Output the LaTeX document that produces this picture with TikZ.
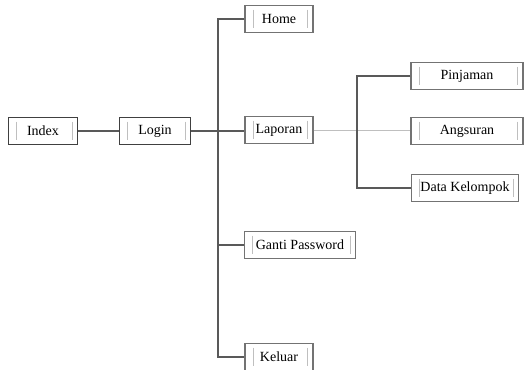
\documentclass[tikz,border=0pt]{standalone}
\usepackage{fontspec}
\setmainfont{Liberation Serif}

\tikzset{every picture/.style={line width=0.75pt}}
\tikzset{
  menubox/.style={draw=black!55, line width=1pt, fill=white, minimum height=20pt,
    inner sep=1pt, font=\fontsize{10.5}{12}\selectfont, text=black,
    path picture={
      \draw[black!25, line width=0.5pt] ([xshift=6pt,yshift=-3pt]path picture bounding box.north west) -- ([xshift=6pt,yshift=3pt]path picture bounding box.south west);
      \draw[black!25, line width=0.5pt] ([xshift=-4pt,yshift=-3pt]path picture bounding box.north east) -- ([xshift=-4pt,yshift=3pt]path picture bounding box.south east);
    }},
  mainbox/.style={menubox, draw=black!75, line width=1.2pt},
  link/.style={draw=black!65, line width=1pt},
  thinlink/.style={draw=black!25, line width=0.75pt}
}

\begin{document}
\begin{tikzpicture}[x=0.75pt,y=0.75pt,yscale=-1,xscale=1]
\useasboundingbox (0,0) rectangle (525,370);

% Text Node
\node[mainbox, minimum width=52pt] (index) at (43,131) {Index};
% Text Node
\node[mainbox, minimum width=53pt] (login) at (155,131) {Login};
% Text Node
\node[menubox, minimum width=51pt] (home) at (279,19) {Home};
% Text Node
\node[menubox, minimum width=51pt] (laporan) at (279,130) {Laporan};
% Text Node
\node[menubox, minimum width=83pt] (gantipw) at (300,245) {Ganti Password};
% Text Node
\node[menubox, minimum width=51pt] (keluar) at (279,357) {Keluar};
% Text Node
\node[menubox, minimum width=84pt] (pinjaman) at (467,76) {Pinjaman};
% Text Node
\node[menubox, minimum width=84pt] (angsuran) at (467,131) {Angsuran};
% Text Node
\node[menubox, minimum width=80pt] (datakel) at (465,188) {Data Kelompok};

%Straight Lines
\coordinate (sp1) at (218,131);
\coordinate (sp2) at (357,131);
\draw[link] (index) -- (login);
\draw[link] (login) -- (sp1);
\draw[link] (home.west) -| (sp1) |- (keluar.west);
\draw[link] (sp1) -- (laporan.west |- sp1);
\draw[link] (gantipw.west) -- (gantipw.west -| sp1);
%Straight Lines
\draw[thinlink] (laporan.east |- sp2) -- (angsuran.west |- sp2);
\draw[link] (pinjaman.west) -| (sp2) |- (datakel.west);

\end{tikzpicture}
\end{document}
